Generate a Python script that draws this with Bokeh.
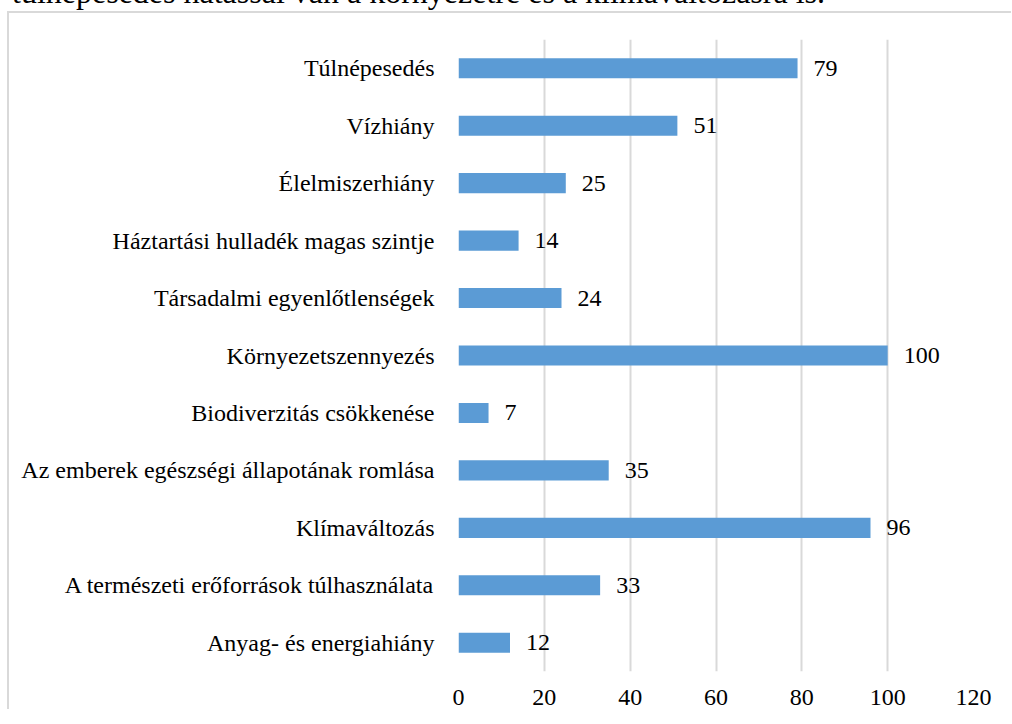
from bokeh.plotting import figure
from bokeh.models import ColumnDataSource, FactorRange, Div, FixedTicker
from bokeh.layouts import column
from bokeh.embed import file_html
from bokeh.resources import INLINE
from bokeh.core.properties import value

# Data (top to bottom as in the reference)
categories = [
    "Túlnépesedés",
    "Vízhiány",
    "Élelmiszerhiány",
    "Háztartási hulladék magas szintje",
    "Társadalmi egyenlőtlenségek",
    "Környezetszennyezés",
    "Biodiverzitás csökkenése",
    "Az emberek egészségi állapotának romlása",
    "Klímaváltozás",
    "A természeti erőforrások túlhasználata",
    "Anyag- és energiahiány",
]
values = [79, 51, 25, 14, 24, 100, 7, 35, 96, 33, 12]
x_ticks = [0, 20, 40, 60, 80, 100, 120]
top_text = "túlnépesedés hatással van a környezetre és a klímaváltozásra is."

FONT = "'Liberation Serif'"

src = ColumnDataSource(dict(cat=categories, val=values, lbl=[str(v) for v in values]))

p = figure(
    y_range=FactorRange(*reversed(categories)),
    x_range=(0, 120),
    frame_width=513, frame_height=630,
    min_border_left=449, min_border_right=40,
    min_border_top=26, min_border_bottom=40,
    output_backend="svg", toolbar_location=None,
    styles={"border-left": "2px solid #d9d9d9", "border-top": "2px solid #d9d9d9"},
)

p.hbar(y="cat", right="val", left=0, height=0.35, source=src,
       fill_color="#5b9bd5", line_color=None)

p.text(x="val", y="cat", text="lbl", source=src, x_offset=16,
       text_align="left", text_baseline="middle",
       text_font=value(FONT), text_font_size="24px", text_color="#000000")

p.xaxis.ticker = FixedTicker(ticks=x_ticks)
p.xaxis.axis_line_color = None
p.xaxis.major_tick_line_color = None
p.xaxis.minor_tick_line_color = None
p.xaxis.major_label_standoff = 12
p.xaxis.major_label_text_font = FONT
p.xaxis.major_label_text_font_size = "24px"
p.xaxis.major_label_text_color = "#000000"

p.yaxis.axis_line_color = None
p.yaxis.major_tick_line_color = None
p.yaxis.minor_tick_line_color = None
p.yaxis.major_label_standoff = 18
p.yaxis.major_label_text_font = FONT
p.yaxis.major_label_text_font_size = "24px"
p.yaxis.major_label_text_color = "#000000"

p.xgrid.grid_line_color = "#d9d9d9"
p.xgrid.grid_line_width = 2
p.ygrid.grid_line_color = None
p.outline_line_color = None

div = Div(
    text=('<div style="position:relative; top:-27px; left:0px; white-space:nowrap; '
          'font-family:\'Liberation Serif\'; font-size:32px; line-height:32px; color:#000;">'
          + top_text + '</div>'),
    width=990, height=3,
    styles={"overflow": "visible"},
)

layout = column(div, p, spacing=0, styles={"margin-left": "7px", "margin-top": "-2px"})

open("out.html", "w").write(file_html(layout, INLINE))
